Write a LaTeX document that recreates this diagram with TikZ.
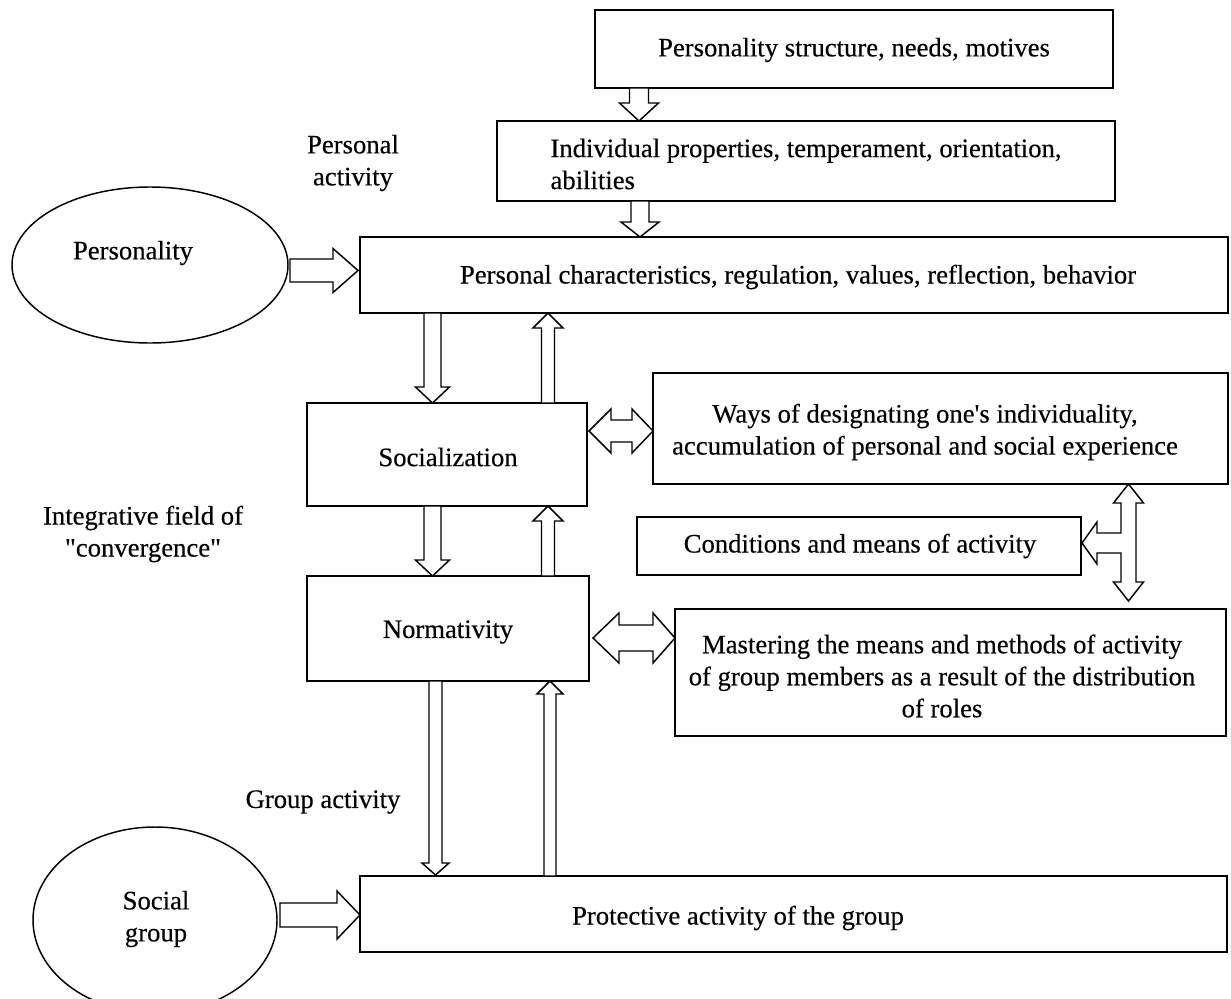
\documentclass[tikz,border=0pt]{standalone}
\usepackage{fontspec}
\setmainfont{Liberation Serif}[FakeBold=0.35]
\usetikzlibrary{shapes.geometric}
\newcommand{\varrow}[6]{% x, ystart, ybase, ytip, halfshaft, halfhead
  \draw[blk] (#1-#5,#2) -- (#1-#5,#3) -- (#1-#6,#3) -- (#1,#4) -- (#1+#6,#3) -- (#1+#5,#3) -- (#1+#5,#2) -- cycle;}
\newcommand{\harrow}[6]{% y, xstart, xbase, xtip, halfshaft, halfhead
  \draw[blk] (#2,#1-#5) -- (#3,#1-#5) -- (#3,#1-#6) -- (#4,#1) -- (#3,#1+#6) -- (#3,#1+#5) -- (#2,#1+#5) -- cycle;}
\newcommand{\dharrow}[7]{% y, xl, xlb, xrb, xr, halfshaft, halfhead
  \draw[blk] (#2,#1) -- (#3,#1-#7) -- (#3,#1-#6) -- (#4,#1-#6) -- (#4,#1-#7) -- (#5,#1) -- (#4,#1+#7) -- (#4,#1+#6) -- (#3,#1+#6) -- (#3,#1+#7) -- cycle;}
\begin{document}
\begin{tikzpicture}[x=0.75pt,y=-0.75pt,
  box/.style 2 args={draw,line width=1.1pt,rectangle,inner sep=0pt,
    minimum width=#1*0.75pt,minimum height=#2*0.75pt},
  ell/.style 2 args={draw,line width=1.1pt,ellipse,inner sep=0pt,
    minimum width=#1*0.75pt,minimum height=#2*0.75pt},
  txt/.style={font=\fontsize{20}{24}\selectfont,align=center,inner sep=0pt},
  blk/.style={draw,line width=1.1pt,fill=white,line join=miter}]
\useasboundingbox (0,0) rectangle (1231,999);
\clip (0,0) rectangle (1231,999);

% boxes
\node[box={518}{78}] (b1) at (854,49) {};
\node[txt] (b1t) at (854,50) {Personality structure, needs, motives};
\node[box={618}{80}] (b2) at (806,161) {};
\node[txt,align=left] (b2t) at (806,164) {Individual properties, temperament, orientation,\\abilities};
\node[box={868}{76}] (b3) at (794,275) {};
\node[txt] (b3t) at (798,277) {Personal characteristics, regulation, values, reflection, behavior};
\node[box={280}{103}] (soc) at (447,454.5) {};
\node[txt] (soct) at (448,457) {Socialization};
\node[box={575}{111}] (ways) at (940.5,428.5) {};
\node[txt] (wayst) at (925,432) {Ways of designating one\textquotesingle s individuality,\\accumulation of personal and social experience};
\node[box={444}{58}] (cond) at (859,546) {};
\node[txt] (condt) at (860,546) {Conditions and means of activity};
\node[box={282}{105}] (norm) at (448,628.5) {};
\node[txt] (normt) at (448,632) {Normativity};
\node[box={551}{127}] (mast) at (950.5,672.5) {};
\node[txt] (mastt) at (942,676) {Mastering the means and methods of activity\\of group members as a result of the distribution\\of roles};
\node[box={867}{76}] (prot) at (793.5,914) {};
\node[txt] (prott) at (738,918) {Protective activity of the group};

% ellipses
\node[ell={276}{156}] (pers) at (150,265) {};
\node[txt] (perstxt) at (133,253) {Personality};
\node[ell={244}{186}] (sg) at (155,920) {};
\node[txt] (sgtxt) at (156,919) {Social\\group};

% labels
\node[txt] (lpa) at (353,163) {Personal\\activity};
\node[txt] (lif) at (143,534) {Integrative field of\\\textquotedbl convergence\textquotedbl};
\node[txt] (lga) at (323,802) {Group activity};

% block arrows
\varrow{639}{88}{103}{121}{9.5}{19.5}
\varrow{640}{201}{222}{237}{9}{19}
\harrow{270.5}{290}{333}{358}{11.5}{22}
\varrow{432.5}{313}{387}{403}{8.5}{17}
\varrow{548}{403}{328}{313}{6.5}{15}
\dharrow{431}{589}{611}{632}{653}{11}{22}
\varrow{432.5}{506}{560}{576}{8.5}{17}
\varrow{548}{576}{521}{506}{6.5}{15}
\dharrow{638}{593}{619}{653}{675}{13}{25}
\varrow{435.5}{681}{863}{875}{6.5}{13.5}
\varrow{550}{876}{694}{681}{6}{13}
\harrow{915}{280}{337}{360}{12}{24}

% T-shaped arrow
\draw[blk] (1128.5,484) -- (1143.5,503) -- (1136,503) -- (1136,582) -- (1143.5,582)
  -- (1128.5,601) -- (1113.5,582) -- (1121,582) -- (1121,553) -- (1097,553)
  -- (1097,564) -- (1082,543) -- (1097,522) -- (1097,533) -- (1121,533)
  -- (1121,503) -- (1113.5,503) -- cycle;
\end{tikzpicture}
\end{document}
